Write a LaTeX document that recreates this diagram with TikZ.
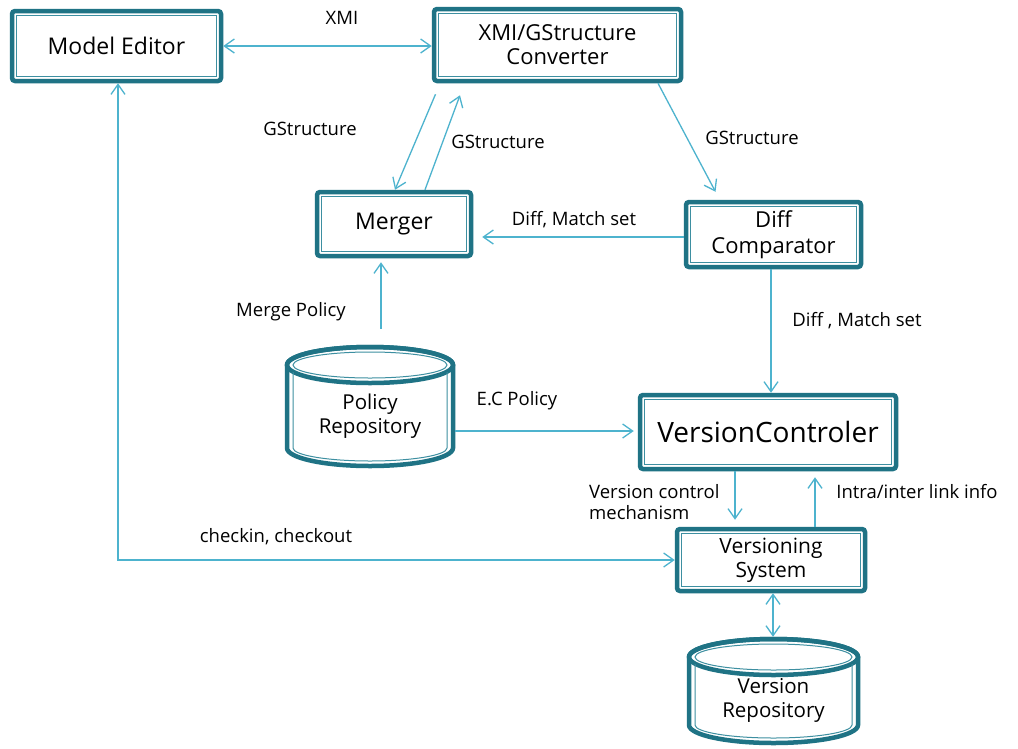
\documentclass[tikz,border=0pt]{standalone}
\usepackage{fontspec}
\setmainfont{Open Sans}
\usetikzlibrary{arrows.meta,calc}
\definecolor{boxc}{HTML}{1F7385}
\definecolor{innc}{HTML}{3D8FA1}
\definecolor{arrc}{HTML}{4DB3CE}
\begin{document}
\begin{tikzpicture}[x=1pt,y=-1pt,
  box/.style={draw=boxc, line width=4.5pt, fill=white, rounded corners=3pt, align=center, inner sep=0pt},
  innerline/.style={draw=innc, line width=1pt},
  cylline/.style={draw=boxc, line width=4.5pt},
  conn/.style={draw=arrc, line width=1.3pt},
  lbl/.style={font=\fontsize{18.5}{21}\selectfont, inner sep=0pt},
  >={Straight Barb[length=10pt,width=14pt]}]
\useasboundingbox[fill=white] (0,0) rectangle (1018,748);

% boxes
\node[box, minimum width=209pt, minimum height=70pt, font=\fontsize{23}{27}\selectfont] (me) at (116.5,46) {Model Editor};
\node[box, minimum width=247pt, minimum height=72pt, font=\fontsize{22}{24}\selectfont] (xmi) at (557.5,45) {XMI/GStructure\\Converter};
\node[box, minimum width=154pt, minimum height=64pt, font=\fontsize{23}{27}\selectfont] (merger) at (394,224) {Merger};
\node[box, minimum width=175pt, minimum height=65pt, font=\fontsize{22}{26}\selectfont] (diff) at (773.5,234.5) {Diff\\Comparator};
\node[box, minimum width=256pt, minimum height=74pt, font=\fontsize{28}{32}\selectfont] (vc) at (768,432) {VersionControler};
\node[box, minimum width=188pt, minimum height=62pt, font=\fontsize{21}{24}\selectfont] (vs) at (771,560) {Versioning\\System};
\foreach \n in {me,xmi,merger,diff,vc,vs}
  \draw[innerline] ($(\n.north west)+(7,7)$) rectangle ($(\n.south east)+(-7,-7)$);

% policy repository cylinder
\node[minimum width=170pt, minimum height=123pt, inner sep=0pt] (pr) at (370,406.5) {};
\draw[cylline, fill=white] (287,365) -- (287,448) arc[start angle=180,end angle=360,x radius=83pt,y radius=18pt] -- (453,365) arc[start angle=0,end angle=180,x radius=83pt,y radius=18pt] -- cycle;
\draw[cylline] (370,365) ellipse [x radius=83pt, y radius=18pt];
\draw[innerline] (370,365) ellipse [x radius=77pt, y radius=13pt];
\draw[innerline] (293,372) -- (293,448) arc[start angle=180,end angle=360,x radius=77pt,y radius=13pt] -- (447,372);
\node[font=\fontsize{20.5}{24}\selectfont, align=center, inner sep=0pt] (prt) at (370,416) {Policy\\Repository};

% version repository cylinder
\node[minimum width=173pt, minimum height=108pt, inner sep=0pt] (vr) at (773.5,691) {};
\draw[cylline, fill=white] (689,657) -- (689,725) arc[start angle=180,end angle=360,x radius=84.5pt,y radius=18pt] -- (858,657) arc[start angle=0,end angle=180,x radius=84.5pt,y radius=18pt] -- cycle;
\draw[cylline] (773.5,657) ellipse [x radius=84.5pt, y radius=18pt];
\draw[innerline] (773.5,657) ellipse [x radius=78.5pt, y radius=13pt];
\draw[innerline] (695,664) -- (695,725) arc[start angle=180,end angle=360,x radius=78.5pt,y radius=13pt] -- (852,664);
\node[font=\fontsize{20.5}{24}\selectfont, align=center, inner sep=0pt] (vrt) at (773.5,700) {Version\\Repository};

% connectors
\draw[conn,<->] (me.east |- 0,46) -- (xmi.west |- 0,46);
\draw[conn,<->] (118,0 |- me.south) |- (vs.west);
\draw[conn,->] ($(xmi.south)+(-122,11)$) -- ($(merger.north)+(1,0)$);
\draw[conn,->] ($(merger.north)+(31,0)$) -- ($(xmi.south)+(-97.5,12)$);
\draw[conn,->] ($(xmi.south)+(100.5,0)$) -- ($(diff.north)+(-58,-8)$);
\draw[conn,->] (diff.west |- 0,237) -- ($(merger.east |- 0,237)+(9,0)$);
\draw[conn,->] ($(381,0 |- pr.north)+(0,-16)$) -- ($(381,0 |- merger.south)+(0,4)$);
\draw[conn,->] (771,0 |- diff.south) -- (771,0 |- vc.north);
\draw[conn,->] (pr.east |- 0,431) -- ($(vc.west |- 0,431)+(-4,0)$);
\draw[conn,->] (735,0 |- vc.south) -- ($(735,0 |- vs.north)+(0,-7)$);
\draw[conn,->] (815,0 |- vs.north) -- ($(815,0 |- vc.south)+(0,6)$);
\draw[conn,<->] (773,0 |- vs.south) -- (773,0 |- vr.north);

% labels
\node[lbl] (lxmi) at (342,18) {XMI};
\node[lbl] (lg1) at (310,129) {GStructure};
\node[lbl] (lg2) at (498,142) {GStructure};
\node[lbl] (lg3) at (752,138) {GStructure};
\node[lbl] (ldm) at (574,220) {Diff, Match set};
\node[lbl] (lmp) at (291,312) {Merge Policy};
\node[lbl] (ldm2) at (857,321) {Diff , Match set};
\node[lbl] (lec) at (517,401) {E.C Policy};
\node[lbl, align=left, anchor=west] (lvcm) at (589,502) {Version control\\mechanism};
\node[lbl] (lil) at (917,492) {Intra/inter link info};
\node[lbl] (lci) at (276,537) {checkin, checkout};
\end{tikzpicture}
\end{document}
